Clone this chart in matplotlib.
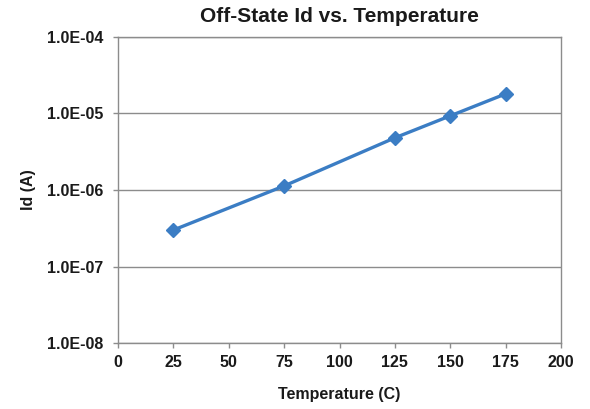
import matplotlib
matplotlib.use("Agg")
import matplotlib.pyplot as plt
from matplotlib.ticker import FixedLocator, NullLocator

plt.rcParams['font.family'] = ['Liberation Sans', 'DejaVu Sans']

# data
temperature = [25, 75, 125, 150, 175]
id_off = [3.0e-7, 1.13e-6, 4.8e-6, 9.3e-6, 1.8e-5]

x_ticks = [0, 25, 50, 75, 100, 125, 150, 175, 200]
y_ticks = [1e-8, 1e-7, 1e-6, 1e-5, 1e-4]
y_tick_labels = ["1.0E-08", "1.0E-07", "1.0E-06", "1.0E-05", "1.0E-04"]

fig = plt.figure(figsize=(5.9, 4.09), dpi=100)
ax = fig.add_axes([0.200, 0.161, 0.751, 0.749])

ax.plot(temperature, id_off, color='#3b7dc4', linewidth=2.4,
        marker='D', markersize=7, zorder=3)

ax.set_yscale('log')
ax.set_xlim(0, 200)
ax.set_ylim(1e-8, 1e-4)
ax.xaxis.set_major_locator(FixedLocator(x_ticks))
ax.yaxis.set_major_locator(FixedLocator(y_ticks))
ax.yaxis.set_minor_locator(NullLocator())
ax.set_yticklabels(y_tick_labels)

ax.grid(axis='y', color='#8c8c8c', linewidth=1.0)
ax.set_axisbelow(True)
for s in ax.spines.values():
    s.set_color('#8c8c8c')
    s.set_linewidth(1.0)

ax.tick_params(axis='both', direction='out', length=3.6, width=1.0,
               color='#8c8c8c', labelsize=11.5)
ax.tick_params(axis='x', pad=5)
ax.tick_params(axis='y', pad=7)
for lbl in ax.get_xticklabels() + ax.get_yticklabels():
    lbl.set_fontweight('bold')
    lbl.set_color('#1a1a1a')

ax.set_xlabel('Temperature (C)', fontsize=11.5, fontweight='bold', labelpad=12, color='#1a1a1a')
ax.set_ylabel('Id (A)', fontsize=11.5, fontweight='bold', labelpad=8, color='#1a1a1a')
ax.set_title('Off-State Id vs. Temperature', fontsize=15, fontweight='bold', pad=11, color='#1a1a1a')

plt.savefig('out.png', dpi=100)
